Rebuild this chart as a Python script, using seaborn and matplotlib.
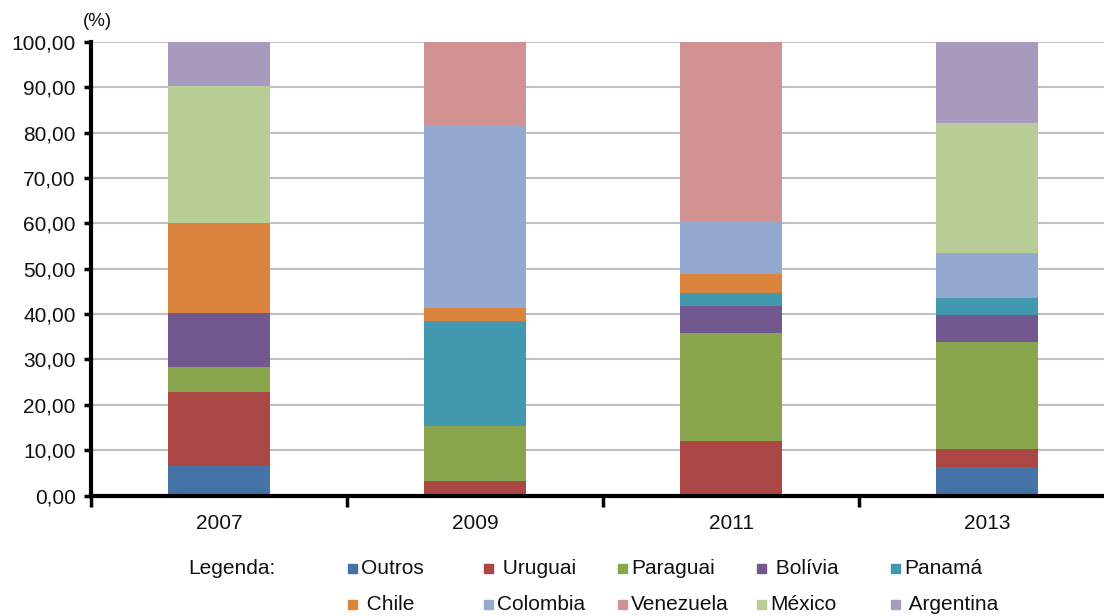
import numpy as np
import pandas as pd
from matplotlib import pyplot as plt
from matplotlib.patches import Rectangle
from matplotlib.ticker import FuncFormatter
import seaborn as sns

# dados (% por pais de destino)
anos = ['2007', '2009', '2011', '2013']
paises = ['Outros', 'Uruguai', 'Paraguai', 'Bolívia', 'Panamá',
          'Chile', 'Colombia', 'Venezuela', 'México', 'Argentina']
rotulos = ['Outros', ' Uruguai', 'Paraguai', ' Bolívia', 'Panamá',
           ' Chile', 'Colombia', 'Venezuela', 'México', ' Argentina']

outros = [6.4, 0.0, 0.0, 6.2]
uruguai = [16.4, 3.3, 12.0, 4.1]
paraguai = [5.5, 12.1, 23.8, 23.5]
bolivia = [12.0, 0.0, 6.0, 5.9]
panama = [0.0, 23.1, 2.8, 3.9]
chile = [19.8, 2.8, 4.3, 0.0]
colombia = [0.0, 40.3, 11.4, 9.9]
venezuela = [0.0, 18.4, 39.7, 0.0]
mexico = [30.2, 0.0, 0.0, 28.6]
argentina = [9.7, 0.0, 0.0, 17.9]

cores = ['#4572A7', '#AA4643', '#89A54E', '#71588F', '#4198AF',
         '#DB843D', '#93A9CF', '#D19392', '#B9CD96', '#A99BBD']

series = [outros, uruguai, paraguai, bolivia, panama,
          chile, colombia, venezuela, mexico, argentina]

sns.set_style("white")
plt.rcParams['font.family'] = ['Liberation Sans', 'DejaVu Sans']
plt.rcParams['text.color'] = '#111111'

# tabela longa com o topo acumulado de cada segmento
acum = np.cumsum(np.array(series), axis=0)
df = pd.DataFrame([(anos[j], paises[i], acum[i, j])
                   for i in range(len(paises)) for j in range(len(anos))],
                  columns=['ano', 'pais', 'topo'])

W, H = 1104, 616
fig = plt.figure(figsize=(W / 100, H / 100), dpi=100)
ax = fig.add_axes([91 / W, (H - 495.5) / H, 1024 / W, 453.5 / H])

# empilhado: desenha do maior acumulado para o menor
for i in reversed(range(len(paises))):
    sub = df[df.pais == paises[i]]
    sns.barplot(data=sub, x='ano', y='topo', order=anos, color=cores[i],
                width=0.40, saturation=1, errorbar=None, ax=ax, zorder=2,
                linewidth=0, edgecolor='none')

ax.set_xlim(-0.5, 3.5)
ax.set_ylim(0, 100)
ax.set_xlabel('')
ax.set_ylabel('')

ax.set_yticks(np.arange(0, 101, 10))
ax.yaxis.set_major_formatter(FuncFormatter(lambda v, p: ('%.2f' % v).replace('.', ',')))
ax.tick_params(axis='y', direction='out', length=5, width=2.5, color='black',
               labelsize=15, pad=6, left=True, labelcolor='#111111')

ax.set_xticks([-0.5, 0.5, 1.5, 2.5, 3.5])
ax.set_xticklabels([])
ax.set_xticks(range(len(anos)), minor=True)
ax.set_xticklabels(anos, minor=True)
ax.tick_params(axis='x', which='major', direction='out', length=8, width=2.5,
               color='black', bottom=True)
ax.tick_params(axis='x', which='minor', length=0, labelsize=15, pad=13,
               labelcolor='#111111')

ax.yaxis.grid(True, color='#C0C0C0', lw=1.5)
ax.xaxis.grid(False)
ax.set_axisbelow(True)

for s in ['top', 'right']:
    ax.spines[s].set_visible(False)
for s in ['left', 'bottom']:
    ax.spines[s].set_color('black')
    ax.spines[s].set_linewidth(3)

fig.text(97 / W, 1 - 22 / H, '(%)', ha='center', va='center', fontsize=13.5)

# legenda em duas linhas
fig.text(188 / W, 1 - 568 / H, 'Legenda:', ha='left', va='center', fontsize=15)
col_x = [348, 484, 618, 757, 891]
lin_y = [568, 604]
for i, nome in enumerate(rotulos):
    x0 = col_x[i % 5]
    y0 = lin_y[i // 5]
    fig.add_artist(Rectangle((x0 / W, 1 - (y0 + 4.5) / H), 9 / W, 9 / H,
                             transform=fig.transFigure, color=cores[i]))
    fig.text((x0 + 13) / W, 1 - y0 / H, nome, ha='left', va='center', fontsize=15)

fig.savefig('out.png', dpi=100)
